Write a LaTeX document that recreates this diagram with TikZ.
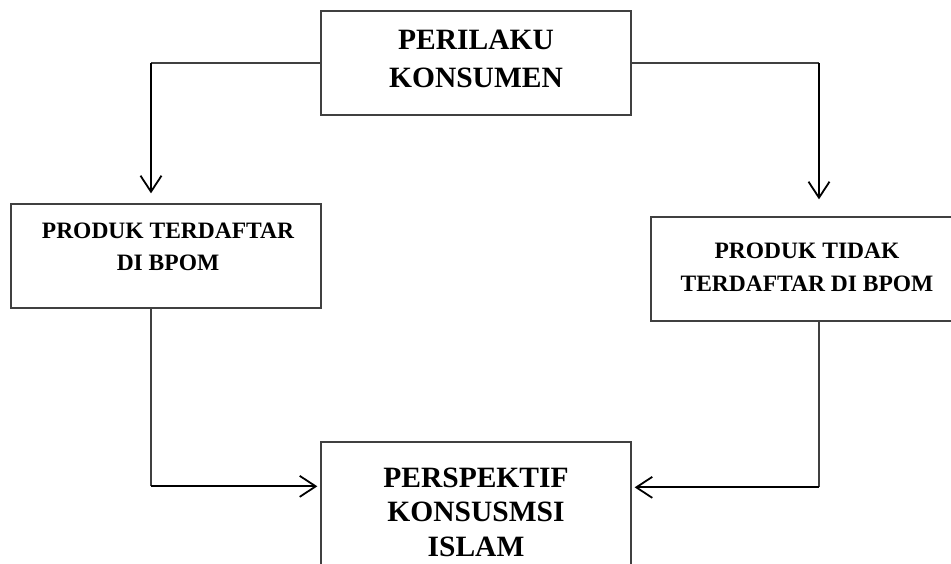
\documentclass[tikz,border=0pt]{standalone}
\usepackage{fontspec}
\setmainfont{Liberation Serif}
\usetikzlibrary{arrows.meta}
\definecolor{edge}{HTML}{404040}
\tikzset{
  box/.style={draw=edge, line width=1.3pt, rectangle, inner sep=0pt},
  big/.style={anchor=base, font=\bfseries\fontsize{29.5}{34}\selectfont},
  small/.style={anchor=base, font=\bfseries\fontsize{23.5}{30}\selectfont},
  link/.style={draw=edge, line width=1.3pt},
  arr/.style={draw=black, line width=1.9pt, -{Straight Barb[length=16pt,width=21pt,line width=1.8pt]}},
}
\begin{document}
\begin{tikzpicture}[x=1pt,y=-1pt]
\useasboundingbox (0,0) rectangle (951,564);
\clip (0,0) rectangle (951,564);
% boxes
\node[box, minimum width=310pt, minimum height=104pt] (top) at (476,63) {};
\node[box, minimum width=310pt, minimum height=104pt] (lb) at (166,256) {};
\node[box, minimum width=312pt, minimum height=104pt] (rb) at (807,269) {};
\node[box, minimum width=310pt, minimum height=180pt] (bb) at (476,532) {};
% texts
\node[big] (t1) at (476,50) {PERILAKU};
\node[big] (t2) at (476,88) {KONSUMEN};
\node[small] (l1) at (168,239) {PRODUK TERDAFTAR};
\node[small] (l2) at (168,271) {DI BPOM};
\node[small] (r1) at (807,259) {PRODUK TIDAK};
\node[small] (r2) at (807,291) {TERDAFTAR DI BPOM};
\node[big] (b1) at (476,487) {PERSPEKTIF};
\node[big] (b2) at (476,521) {KONSUSMSI};
\node[big] (b3) at (476,556) {ISLAM};
% helper coordinates
\coordinate (lx) at ([xshift=-15pt]lb.north);
\coordinate (lxs) at ([xshift=-15pt]lb.south);
\coordinate (rx) at ([xshift=12pt]rb.north);
\coordinate (rxs) at ([xshift=12pt]rb.south);
\coordinate (bl) at ([yshift=-45pt]bb.north west);
\coordinate (br) at ([yshift=-46pt]bb.north east);
\coordinate (c1) at (lx |- top.west);
\coordinate (c2) at (rx |- top.east);
\coordinate (c3) at (lxs |- bl);
\coordinate (c4) at (rxs |- br);
% connectors
\draw[link] (top.west) -- (c1);
\draw[arr, shorten >=10pt] (c1) -- (lx);
\draw[link] (top.east) -- (c2);
\draw[arr, shorten >=17pt] (c2) -- (rx);
\draw[link] (lxs) -- (c3);
\draw[arr, shorten >=3pt] (c3) -- (bl);
\draw[link] (rxs) -- (c4);
\draw[arr, shorten >=3pt] (c4) -- (br);
\end{tikzpicture}
\end{document}
